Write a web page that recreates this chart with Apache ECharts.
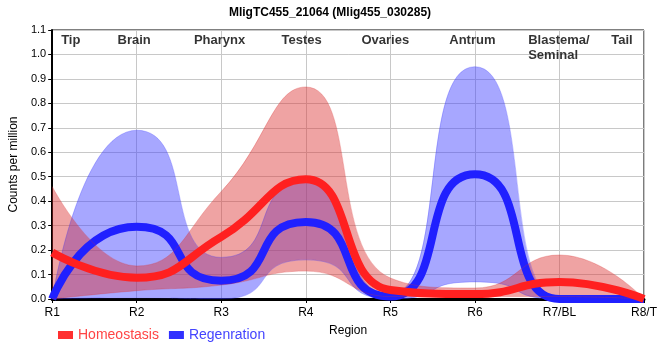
<!DOCTYPE html>
<html>
<head>
<meta charset="utf-8">
<script src="https://cdn.jsdelivr.net/npm/echarts@6/dist/echarts.min.js"></script>
<style>html,body{margin:0;padding:0;background:#fff}#c{width:660px;height:360px}</style>
</head>
<body>
<div id="c"></div>
<script>
var categories = ['R1','R2','R3','R4','R5','R6','R7/BL','R8/T'];
var homeoMean = [0.19, 0.087, 0.254, 0.49, 0.037, 0.02, 0.07, 0.0];
var homeoLow  = [0.0, 0.034, 0.057, 0.114, 0.01, 0.01, 0.01, 0.0];
var homeoHigh = [0.46, 0.135, 0.44, 0.867, 0.086, 0.045, 0.18, 0.0];
var regenMean = [0.0, 0.295, 0.075, 0.315, 0.01, 0.51, 0.0, 0.0];
var regenLow  = [0.0, 0.005, 0.0, 0.16, 0.0, 0.07, 0.0, 0.0];
var regenHigh = [0.0, 0.69, 0.17, 0.48, 0.02, 0.95, 0.0, 0.0];
var yTicks = [0,0.1,0.2,0.3,0.4,0.5,0.6,0.7,0.8,0.9,1.0,1.1];
var regionNames = ['Tip','Brain','Pharynx','Testes','Ovaries','Antrum','Blastema/\nSeminal','Tail'];
var regionPos = [0.22, 0.97, 1.98, 2.95, 3.94, 4.97, 5.63, 6.74];
var regionAlign = ['center','center','center','center','center','center','left','center'];
var tailBoundary = 7.5;

function diff(a, b) { return a.map(function (v, i) { return +(v - b[i]).toFixed(4); }); }
var SM_R = 0.5;   // homeostasis smoothing
var SM_B = 0.68;  // regeneration smoothing
var FONT = '"Liberation Sans", Arial, sans-serif';

var chart = echarts.init(document.getElementById('c'), null, {renderer: 'canvas'});
var option = {
  animation: false,
  backgroundColor: '#fff',
  textStyle: {fontFamily: FONT},
  title: {
    text: 'MligTC455_21064 (Mlig455_030285)',
    left: 'center', top: 2,
    textStyle: {fontSize: 12, fontWeight: 'bold', color: '#000', fontFamily: FONT}
  },
  legend: {
    left: 53, top: 323, icon: 'rect', itemWidth: 15, itemHeight: 8, itemGap: 10,
    textStyle: {fontSize: 14, fontFamily: FONT},
    data: [
      {name: 'Homeostasis', textStyle: {color: '#ff4444'}},
      {name: 'Regenration', textStyle: {color: '#4444ff'}}
    ]
  },
  grid: {left: 50, right: 9, top: 30, bottom: 61, show: true, borderColor: '#000', borderWidth: 1},
  xAxis: [{
    type: 'category', data: categories, boundaryGap: false,
    name: 'Region', nameLocation: 'middle', nameGap: 26,
    nameTextStyle: {fontSize: 12, color: '#000', fontFamily: FONT},
    axisLine: {lineStyle: {color: '#000', width: 3}},
    axisTick: {show: true, length: 4, lineStyle: {color: '#000'}},
    axisLabel: {fontSize: 12, color: '#000', margin: 8, fontFamily: FONT},
    splitLine: {show: true, lineStyle: {color: '#c8c8c8', width: 1}}
  }, {
    type: 'value', min: 0, max: 7, show: false, position: 'top'
  }],
  yAxis: {
    type: 'value', min: 0, max: 1.1, interval: 0.1,
    name: 'Counts per million', nameLocation: 'middle', nameGap: 27,
    nameTextStyle: {fontSize: 12, color: '#000', fontFamily: FONT},
    axisLine: {show: true, lineStyle: {color: '#000', width: 2}},
    axisTick: {show: true, length: 4, lineStyle: {color: '#000'}},
    axisLabel: {fontSize: 11, color: '#000', margin: 6, fontFamily: FONT,
      formatter: function (v) { var t = yTicks.reduce(function (p, c) { return Math.abs(c - v) < Math.abs(p - v) ? c : p; }); return t.toFixed(1); }},
    splitLine: {show: true, lineStyle: {color: '#c8c8c8', width: 1}}
  },
  series: [
    {name: 'regenLow', type: 'line', stack: 'r', data: regenLow, smooth: SM_B, smoothMonotone: 'x', symbol: 'none',
      lineStyle: {width: 0.8, color: 'rgba(60,60,255,0.35)'}, silent: true},
    {name: 'regenBand', type: 'line', stack: 'r', data: diff(regenHigh, regenLow), smooth: SM_B, smoothMonotone: 'x', symbol: 'none',
      lineStyle: {width: 0.8, color: 'rgba(60,60,255,0.35)'},
      areaStyle: {color: 'rgba(60,60,255,0.45)', opacity: 1}, silent: true},
    {name: 'Regenration', type: 'line', data: regenMean, smooth: SM_B, smoothMonotone: 'x', symbol: 'none',
      itemStyle: {color: '#3030ff'},
      lineStyle: {width: 8, color: '#2020ff'}},
    {name: 'homeoLow', type: 'line', stack: 'h', data: homeoLow, smooth: SM_R, symbol: 'none',
      lineStyle: {width: 0.8, color: 'rgba(220,50,50,0.35)'}, silent: true},
    {name: 'homeoBand', type: 'line', stack: 'h', data: diff(homeoHigh, homeoLow), smooth: SM_R, symbol: 'none',
      lineStyle: {width: 0.8, color: 'rgba(220,50,50,0.35)'},
      areaStyle: {color: 'rgba(220,50,50,0.45)', opacity: 1}, silent: true},
    {name: 'Homeostasis', type: 'line', data: homeoMean, smooth: SM_R, symbol: 'none',
      itemStyle: {color: '#ff3030'},
      lineStyle: {width: 8, color: '#ff2020'}},
    {name: 'regions', type: 'scatter', xAxisIndex: 1, symbolSize: 0, silent: true,
      data: regionNames.map(function (n, i) {
        return {value: [regionPos[i], 1.1], name: n, label: {align: regionAlign[i]}};
      }),
      label: {show: true, position: 'bottom', distance: 3, formatter: function (p) { return p.name; },
        fontSize: 13, fontWeight: 'bold', color: '#000', lineHeight: 15, fontFamily: FONT},
      markLine: {silent: true, symbol: 'none', label: {show: false},
        lineStyle: {type: [6, 5], color: '#000', width: 2},
        data: [{xAxis: tailBoundary}]}
    }
  ]
};
chart.setOption(option);
</script>
</body>
</html>
